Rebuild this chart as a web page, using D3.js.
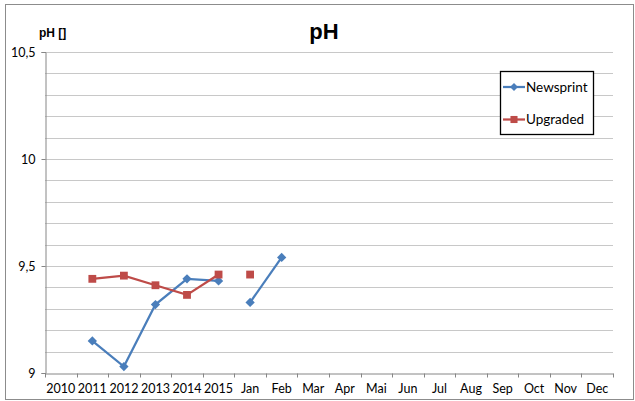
<!DOCTYPE html>
<html>
<head>
<meta charset="utf-8">
<script src="https://cdn.jsdelivr.net/npm/d3@7"></script>
<style>
  body { margin: 0; background: #fff; }
  svg text { font-family: Lato, "Open Sans", sans-serif; }
</style>
</head>
<body>
<div id="chart"></div>
<script>
// categories along the x axis (years then months)
var categories = ["2010","2011","2012","2013","2014","2015","Jan","Feb","Mar","Apr","Mai","Jun","Jul","Aug","Sep","Oct","Nov","Dec"];
var newsprint = [null, 9.15, 9.03, 9.32, 9.44, 9.43, 9.33, 9.54, null, null, null, null, null, null, null, null, null, null];
var upgraded  = [null, 9.44, 9.455, 9.41, 9.365, 9.46, 9.46, null, null, null, null, null, null, null, null, null, null, null];
// the yearly part and the monthly part are not joined by a line
var breakAfter = "2015";
var yTicks = [9, 9.5, 10, 10.5];

var W = 635, H = 401;
var margin = {left: 45, right: 22, top: 52, bottom: 28};

var svg = d3.select("#chart").append("svg")
  .attr("width", W)
  .attr("height", H);

svg.append("rect")
  .attr("x", 5.5).attr("y", 4.5)
  .attr("width", 628).attr("height", 395)
  .attr("fill", "#fff")
  .attr("stroke", "#8c8c8c");

var x = d3.scaleBand()
  .domain(categories)
  .range([margin.left, W - margin.right]);

var y = d3.scaleLinear()
  .domain([9, 10.5])
  .range([H - margin.bottom, margin.top]);

// gridlines every 0.1
var grid = d3.range(9.1, 10.51, 0.1);
svg.append("g").selectAll("line")
  .data(grid)
  .enter().append("line")
  .attr("x1", margin.left).attr("x2", W - margin.right)
  .attr("y1", function(d){ return Math.round(y(d)) + 0.5; })
  .attr("y2", function(d){ return Math.round(y(d)) + 0.5; })
  .attr("stroke", "#c8c8c8");

// y axis
var yAxis = svg.append("g")
  .attr("transform", "translate(" + (margin.left + 0.5) + ",0)")
  .call(d3.axisLeft(y).tickValues(yTicks).tickSize(4).tickPadding(6)
    .tickFormat(function(d){ return String(d).replace(".", ","); }));
yAxis.select(".domain").attr("stroke", "#868686");
yAxis.selectAll(".tick line").attr("stroke", "#868686");
yAxis.selectAll("text").attr("font-size", 12.5).attr("fill", "#000")
  .style("font-family", "Lato, sans-serif");

// x axis
var xAxis = svg.append("g")
  .attr("transform", "translate(0," + (Math.round(y(9)) + 0.5) + ")")
  .call(d3.axisBottom(x).tickSize(0).tickPadding(11));
xAxis.select(".domain").attr("stroke", "#868686");
xAxis.selectAll("text").attr("font-size", 12.5).attr("fill", "#000")
  .style("font-family", "Lato, sans-serif");
xAxis.selectAll(".sep")
  .data(categories.concat([null]))
  .enter().append("line")
  .attr("class", "sep")
  .attr("x1", function(d, i){ return Math.round(margin.left + i * x.bandwidth()) + 0.5; })
  .attr("x2", function(d, i){ return Math.round(margin.left + i * x.bandwidth()) + 0.5; })
  .attr("y1", 0).attr("y2", 4)
  .attr("stroke", "#868686");

function cx(d){ return x(d.cat) + x.bandwidth() / 2; }

function points(values){
  return values.map(function(v, i){ return {cat: categories[i], v: v}; })
    .filter(function(d){ return d.v !== null; });
}

var breakIdx = categories.indexOf(breakAfter);
var line = d3.line()
  .defined(function(d){ return d.v !== null; })
  .x(cx)
  .y(function(d){ return y(d.v); });

function drawSeries(values, color, symbol, size){
  var all = values.map(function(v, i){ return {cat: categories[i], v: v}; });
  var parts = [all.slice(0, breakIdx + 1), all.slice(breakIdx + 1)];
  svg.append("g").selectAll("path")
    .data(parts)
    .enter().append("path")
    .attr("d", line)
    .attr("fill", "none")
    .attr("stroke", color)
    .attr("stroke-width", 2.25);
  svg.append("g").selectAll("path")
    .data(points(values))
    .enter().append("path")
    .attr("transform", function(d){ return "translate(" + cx(d) + "," + y(d.v) + ")"; })
    .attr("d", d3.symbol().type(symbol).size(size))
    .attr("fill", color);
}

drawSeries(newsprint, "#4a7ebb", d3.symbolDiamond2, 55);
drawSeries(upgraded, "#be4b48", d3.symbolSquare2, 78);

// titles
svg.append("text")
  .attr("x", 324).attr("y", 39)
  .attr("text-anchor", "middle")
  .attr("font-size", 22).attr("font-weight", "bold")
  .style("font-family", "'Liberation Sans', Arial, sans-serif")
  .text("pH");

svg.append("text")
  .attr("x", 39).attr("y", 37)
  .attr("font-size", 12).attr("font-weight", "bold")
  .style("font-family", "'Liberation Sans', Arial, sans-serif")
  .text("pH []");

// legend
var legendData = [
  {name: "Newsprint", color: "#4a7ebb", symbol: d3.symbolDiamond2, size: 40},
  {name: "Upgraded", color: "#be4b48", symbol: d3.symbolSquare2, size: 64}
];
var legend = svg.append("g");
legend.append("rect")
  .attr("x", 500.5).attr("y", 71.5)
  .attr("width", 93).attr("height", 63)
  .attr("fill", "#fff")
  .attr("stroke", "#000").attr("stroke-width", 1.3);

var li = legend.selectAll("g")
  .data(legendData)
  .enter().append("g")
  .attr("transform", function(d, i){ return "translate(503," + (87 + i * 32.5) + ")"; });
li.append("line")
  .attr("x1", 0).attr("x2", 22)
  .attr("stroke", function(d){ return d.color; })
  .attr("stroke-width", 2.25);
li.append("path")
  .attr("transform", "translate(11,0)")
  .attr("d", function(d){ return d3.symbol().type(d.symbol).size(d.size)(); })
  .attr("fill", function(d){ return d.color; });
li.append("text")
  .attr("x", 23).attr("dy", "0.35em")
  .attr("font-size", 13.5)
  .text(function(d){ return d.name; });
</script>
</body>
</html>
